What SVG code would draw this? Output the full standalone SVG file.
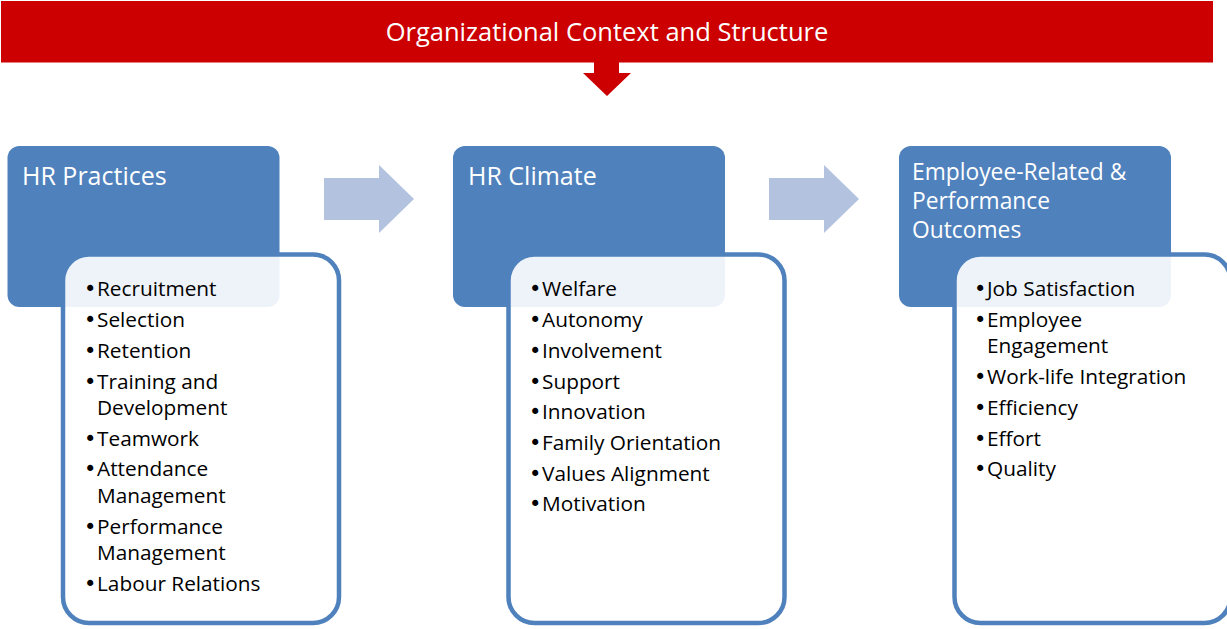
<svg xmlns="http://www.w3.org/2000/svg" width="1227" height="629" viewBox="0 0 1227 629">
  <style>
    .banner { fill: #CC0000; }
    .banner-text { fill: #FFFFFF; font-family: "Open Sans", "Liberation Sans", sans-serif; font-size: 25.5px; }
    .head { fill: #4F81BD; }
    .head-text { fill: #FFFFFF; font-family: "Open Sans", "Liberation Sans", sans-serif; font-size: 25px; }
    .head-text.small { font-size: 22.8px; }
    .list { fill: #FFFFFF; fill-opacity: 0.9; stroke: #4F81BD; stroke-width: 4.5; }
    .item { fill: #000000; font-family: "Open Sans", "Liberation Sans", sans-serif; font-size: 20.8px; }
    .dot { font-family: "DejaVu Sans", sans-serif; font-size: 21px; }
    .step { fill: #B3C3DF; }
    .down { fill: #CC0000; }
  </style>

  <!-- top context banner -->
  <g id="context">
    <rect class="banner" x="1" y="1" width="1212" height="61.5"/>
    <text class="banner-text" x="607" y="41" text-anchor="middle">Organizational Context and Structure</text>
  </g>

  <!-- column 1 -->
  <g id="hr-practices">
    <rect class="head" x="7.5" y="146" width="272" height="161" rx="12"/>
    <text class="head-text" x="22" y="185">HR Practices</text>
    <rect class="list" x="63" y="254.5" width="276" height="368.5" rx="26"/>
    <g class="item">
      <text y="296"><tspan class="dot" x="84">•</tspan><tspan x="97">Recruitment</tspan></text>
      <text y="327"><tspan class="dot" x="84">•</tspan><tspan x="97">Selection</tspan></text>
      <text y="358"><tspan class="dot" x="84">•</tspan><tspan x="97">Retention</tspan></text>
      <text y="389"><tspan class="dot" x="84">•</tspan><tspan x="97">Training and</tspan></text>
      <text x="97" y="415">Development</text>
      <text y="446"><tspan class="dot" x="84">•</tspan><tspan x="97">Teamwork</tspan></text>
      <text y="476"><tspan class="dot" x="84">•</tspan><tspan x="97">Attendance</tspan></text>
      <text x="97" y="503">Management</text>
      <text y="534"><tspan class="dot" x="84">•</tspan><tspan x="97">Performance</tspan></text>
      <text x="97" y="560">Management</text>
      <text y="591"><tspan class="dot" x="84">•</tspan><tspan x="97">Labour Relations</tspan></text>
    </g>
  </g>

  <!-- column 2 -->
  <g id="hr-climate">
    <rect class="head" x="453" y="146" width="272" height="161" rx="12"/>
    <text class="head-text" x="468" y="185">HR Climate</text>
    <rect class="list" x="508.5" y="254.5" width="276" height="368.5" rx="26"/>
    <g class="item">
      <text y="296"><tspan class="dot" x="529">•</tspan><tspan x="542">Welfare</tspan></text>
      <text y="327"><tspan class="dot" x="529">•</tspan><tspan x="542">Autonomy</tspan></text>
      <text y="358"><tspan class="dot" x="529">•</tspan><tspan x="542">Involvement</tspan></text>
      <text y="389"><tspan class="dot" x="529">•</tspan><tspan x="542">Support</tspan></text>
      <text y="419"><tspan class="dot" x="529">•</tspan><tspan x="542">Innovation</tspan></text>
      <text y="450"><tspan class="dot" x="529">•</tspan><tspan x="542">Family Orientation</tspan></text>
      <text y="481"><tspan class="dot" x="529">•</tspan><tspan x="542">Values Alignment</tspan></text>
      <text y="511"><tspan class="dot" x="529">•</tspan><tspan x="542">Motivation</tspan></text>
    </g>
  </g>

  <!-- column 3 -->
  <g id="outcomes">
    <rect class="head" x="899" y="146" width="272" height="161" rx="12"/>
    <text class="head-text small" x="912" y="180">Employee-Related &amp;</text>
    <text class="head-text small" x="912" y="209">Performance</text>
    <text class="head-text small" x="912" y="238">Outcomes</text>
    <rect class="list" x="954.5" y="254.5" width="276" height="368.5" rx="26"/>
    <g class="item">
      <text y="296"><tspan class="dot" x="974">•</tspan><tspan x="987">Job Satisfaction</tspan></text>
      <text y="327"><tspan class="dot" x="974">•</tspan><tspan x="987">Employee</tspan></text>
      <text x="987" y="353">Engagement</text>
      <text y="384"><tspan class="dot" x="974">•</tspan><tspan x="987">Work-life Integration</tspan></text>
      <text y="415"><tspan class="dot" x="974">•</tspan><tspan x="987">Efficiency</tspan></text>
      <text y="446"><tspan class="dot" x="974">•</tspan><tspan x="987">Effort</tspan></text>
      <text y="476"><tspan class="dot" x="974">•</tspan><tspan x="987">Quality</tspan></text>
    </g>
  </g>

  <!-- connectors: banner drop arrow and block arrows between columns -->
  <g id="connectors">
    <polygon class="down" points="594,62 619,62 619,73 631,73 607,96 583,73 594,73"/>
    <polygon class="step" points="324,178 379,178 379,165 414,199 379,233 379,220 324,220"/>
    <polygon class="step" points="769,178 824,178 824,165 859,199 824,233 824,220 769,220"/>
  </g>
</svg>
